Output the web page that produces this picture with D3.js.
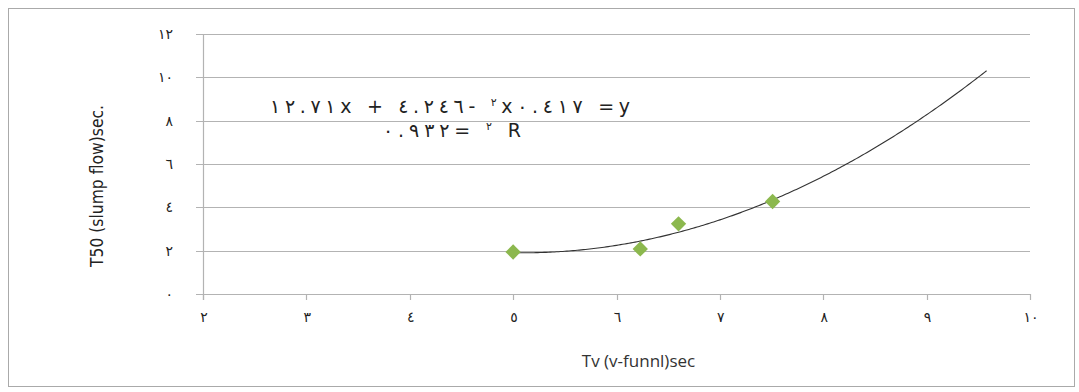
<!DOCTYPE html>
<html>
<head>
<meta charset="utf-8">
<script src="https://cdn.jsdelivr.net/npm/d3@7"></script>
<style>
  body { margin: 0; background: #fff; }
  svg { display: block; }
</style>
</head>
<body>
<div id="chart"></div>
<script>
// data
var xValues = [5.0, 6.23, 6.6, 7.51];
var yValues = [1.94, 2.08, 3.24, 4.27];
// trendline coefficients (y = a x^2 + b x + c)
var trendCoef = [0.417, -4.246, 12.71];
var trendRange = [5.0, 9.58];
var xTicks = [2, 3, 4, 5, 6, 7, 8, 9, 10];
var yTicks = [0, 2, 4, 6, 8, 10, 12];
var arabicDigits = ['٠', '١', '٢', '٣', '٤', '٥', '٦', '٧', '٨', '٩'];

function toArabic(n) {
  return String(n).split('').map(function (c) { return arabicDigits[+c]; }).join('');
}

var width = 1079, height = 392;
var margin = { left: 203, right: 49, top: 34, bottom: 98 };

var svg = d3.select('#chart')
  .append('svg')
  .attr('width', width)
  .attr('height', height);

// outer frame
svg.append('rect')
  .attr('x', 8.5).attr('y', 8.5)
  .attr('width', 1066).attr('height', 378)
  .attr('fill', 'none')
  .attr('stroke', '#aaa')
  .attr('stroke-width', 1);

var x = d3.scaleLinear().domain([2, 10]).range([margin.left, width - margin.right]);
var y = d3.scaleLinear().domain([0, 12]).range([height - margin.bottom, margin.top]);

// gridlines
svg.append('g')
  .selectAll('line')
  .data(yTicks)
  .enter()
  .append('line')
  .attr('x1', x(2) - 7)
  .attr('x2', x(10))
  .attr('y1', function (d) { return Math.round(y(d)) + 0.5; })
  .attr('y2', function (d) { return Math.round(y(d)) + 0.5; })
  .attr('stroke', '#b3b3b3')
  .attr('stroke-width', 1.2);

// y axis line
svg.append('line')
  .attr('x1', Math.round(x(2)) + 0.5).attr('x2', Math.round(x(2)) + 0.5)
  .attr('y1', y(12)).attr('y2', y(0) + 6)
  .attr('stroke', '#b3b3b3').attr('stroke-width', 1.2);

// x axis ticks
svg.append('g')
  .selectAll('line')
  .data(xTicks)
  .enter()
  .append('line')
  .attr('x1', function (d) { return Math.round(x(d)) + 0.5; })
  .attr('x2', function (d) { return Math.round(x(d)) + 0.5; })
  .attr('y1', y(0))
  .attr('y2', y(0) + 6)
  .attr('stroke', '#b3b3b3')
  .attr('stroke-width', 1.2);

// y tick labels
svg.append('g')
  .selectAll('text')
  .data(yTicks)
  .enter()
  .append('text')
  .attr('x', x(2) - 30)
  .attr('y', function (d) { return y(d) + 5; })
  .attr('text-anchor', 'end')
  .attr('direction', 'ltr')
  .attr('unicode-bidi', 'bidi-override')
  .style('font-family', 'DejaVu Sans, sans-serif')
  .style('font-size', '14px')
  .style('letter-spacing', '3px')
  .style('fill', '#222')
  .text(function (d) { return toArabic(d); });

// x tick labels
svg.append('g')
  .selectAll('text')
  .data(xTicks)
  .enter()
  .append('text')
  .attr('x', function (d) { return x(d) + 1; })
  .attr('y', y(0) + 28)
  .attr('text-anchor', 'middle')
  .attr('direction', 'ltr')
  .attr('unicode-bidi', 'bidi-override')
  .style('font-family', 'DejaVu Sans, sans-serif')
  .style('font-size', '14px')
  .style('letter-spacing', '3px')
  .style('fill', '#222')
  .text(function (d) { return toArabic(d); });

// axis titles
svg.append('text')
  .attr('x', x(6) + 22)
  .attr('y', 367)
  .attr('text-anchor', 'middle')
  .style('font-family', 'Open Sans, DejaVu Sans, sans-serif')
  .style('font-size', '17px')
  .style('fill', '#333')
  .text('Tv (v-funnl)sec');

svg.append('text')
  .attr('transform', 'translate(103,' + 186 + ') rotate(-90)')
  .attr('text-anchor', 'middle')
  .style('font-family', 'DejaVu Sans, sans-serif')
  .style('font-size', '18px')
  .style('fill', '#222')
  .attr('textLength', 162)
  .attr('lengthAdjust', 'spacingAndGlyphs')
  .text('T50 (slump flow)sec.');

// trendline
var trendData = d3.range(trendRange[0], trendRange[1] + 0.001, 0.02);
var line = d3.line()
  .x(function (d) { return x(d); })
  .y(function (d) { return y(trendCoef[0] * d * d + trendCoef[1] * d + trendCoef[2]); });
svg.append('path')
  .datum(trendData)
  .attr('d', line)
  .attr('fill', 'none')
  .attr('stroke', '#333')
  .attr('stroke-width', 1.1);

// points (diamonds)
var diamond = d3.symbol().type(d3.symbolDiamond2).size(150);
svg.append('g')
  .selectAll('path')
  .data(xValues)
  .enter()
  .append('path')
  .attr('d', diamond)
  .attr('transform', function (d, i) { return 'translate(' + x(d) + ',' + y(yValues[i]) + ')'; })
  .attr('fill', '#8cb84e');

// equation text, in visual order as in the picture
var eq = svg.append('g')
  .style('font-family', 'DejaVu Sans, sans-serif')
  .style('fill', '#222');

var l1 = eq.append('text')
  .attr('x', 270).attr('y', 113)
  .attr('direction', 'ltr')
  .attr('unicode-bidi', 'bidi-override')
  .attr('textLength', 360)
  .attr('lengthAdjust', 'spacing')
  .style('font-size', '19px');
l1.append('tspan').text('١٢.٧١x + ٤.٢٤٦- ');
l1.append('tspan').attr('dy', -7).style('font-size', '11px').text('٢');
l1.append('tspan').attr('dy', 7).text('x٠.٤١٧ =y');

var l2 = eq.append('text')
  .attr('x', 383).attr('y', 137)
  .attr('direction', 'ltr')
  .attr('unicode-bidi', 'bidi-override')
  .attr('textLength', 138)
  .attr('lengthAdjust', 'spacing')
  .style('font-size', '19px');
l2.append('tspan').text('٠.٩٣٢= ');
l2.append('tspan').attr('dy', -7).style('font-size', '11px').text('٢');
l2.append('tspan').attr('dy', 7).text(' R');
</script>
</body>
</html>
